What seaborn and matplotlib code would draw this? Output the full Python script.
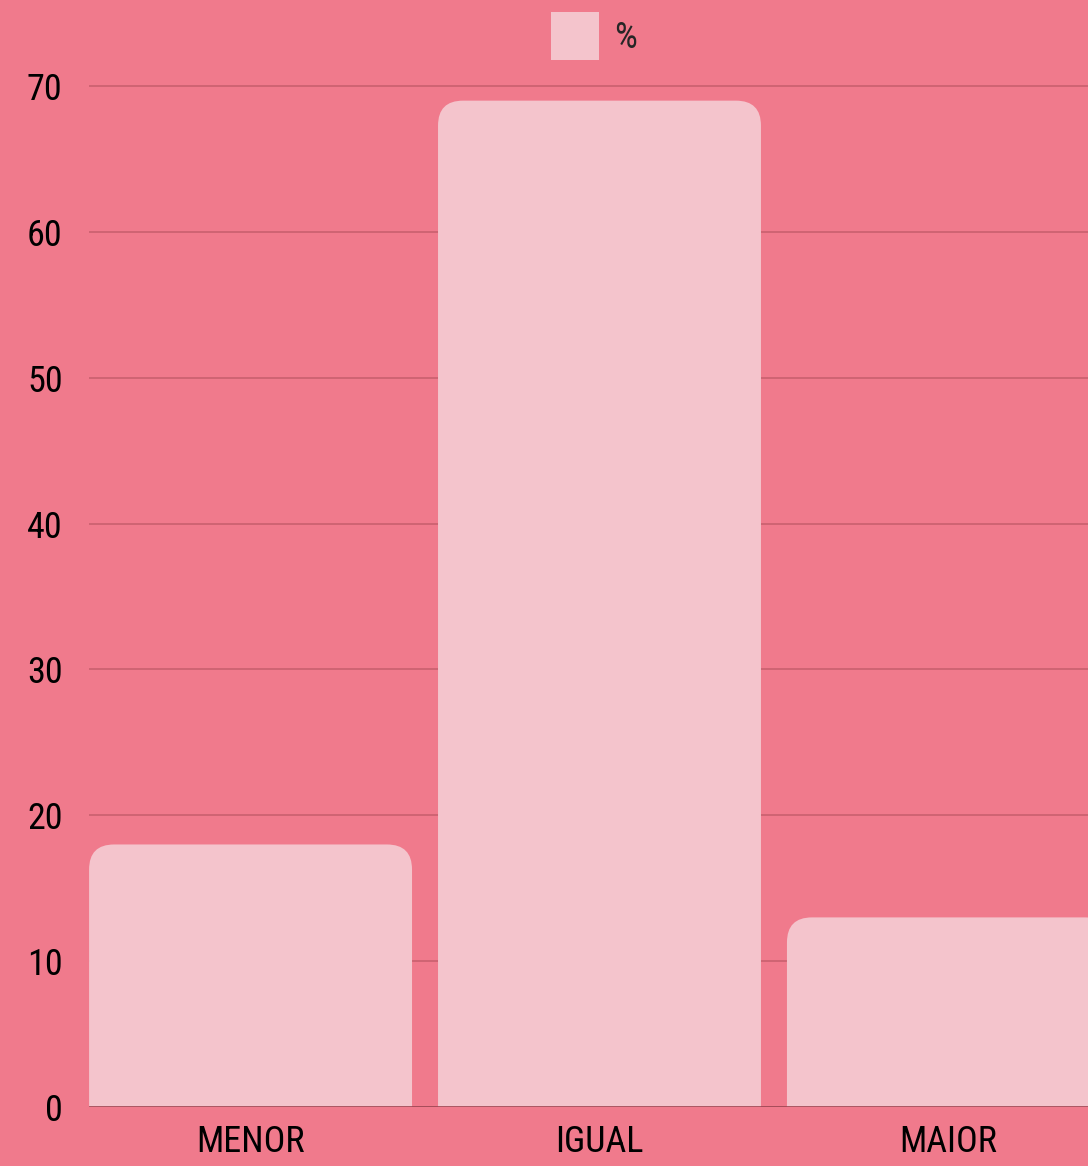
import matplotlib
matplotlib.use("Agg")
import matplotlib.pyplot as plt
from matplotlib import font_manager
from matplotlib.patches import FancyBboxPatch, Patch
import seaborn as sns
import pandas as pd

categorias = ["MENOR", "IGUAL", "MAIOR"]
valores = [18, 69, 13]
serie = "%"

fundo = "#F07A8C"
cor_barra = "#F4C4CC"

nomes = {f.name for f in font_manager.fontManager.ttflist}
fonte = "DejaVu Sans"
for cand in ["Roboto Condensed", "Liberation Sans Narrow", "DejaVu Sans Condensed", "Open Sans Condensed"]:
    if cand in nomes:
        fonte = cand
        break

sns.set_theme(style="white")
plt.rcParams["font.family"] = [fonte, "DejaVu Sans"]

df = pd.DataFrame({"categoria": categorias, "valor": valores})

fig = plt.figure(figsize=(10.88, 11.66), dpi=100, facecolor=fundo)
ax = fig.add_axes([89 / 1088, 59 / 1166, 1 - 89 / 1088, 1 - 59 / 1166])
ax.set_facecolor(fundo)

sns.barplot(data=df, x="categoria", y="valor", color=cor_barra, width=0.9255,
            saturation=1, ax=ax, zorder=2)

# barras com cantos arredondados em cima
raio_x = 25 / 349
raio_y = 25 / 14.59
for p in list(ax.patches):
    x0, w, h = p.get_x(), p.get_width(), p.get_height()
    nova = FancyBboxPatch((x0, -raio_y * 2), w, h + raio_y * 2,
                          boxstyle=f"round,pad=0,rounding_size={raio_x}",
                          mutation_aspect=raio_y / raio_x,
                          facecolor=cor_barra, edgecolor="none", zorder=2)
    p.remove()
    ax.add_patch(nova)

ax.set_ylim(0, 75.9)
ax.set_xlim(-0.463, 2.40)
ax.set_yticks(range(0, 71, 10))
ax.yaxis.grid(True, color="#C9606F", linewidth=1.2, zorder=0)
ax.set_axisbelow(True)
ax.axhline(0, color="#A44B58", linewidth=2, zorder=3)
for s in ax.spines.values():
    s.set_visible(False)

ax.set_xlabel("")
ax.set_ylabel("")
ax.tick_params(axis="both", length=0, labelsize=26, colors="black")
ax.tick_params(axis="y", pad=19)
ax.tick_params(axis="x", pad=12)

handle = Patch(facecolor=cor_barra, edgecolor="none")
fig.legend([handle], [serie], loc="center", bbox_to_anchor=(594 / 1088, 1 - 36 / 1166),
           frameon=False, fontsize=26, handlelength=1.33, handleheight=1.7,
           handletextpad=0.4)

fig.savefig("out.png", dpi=100, facecolor=fundo)
